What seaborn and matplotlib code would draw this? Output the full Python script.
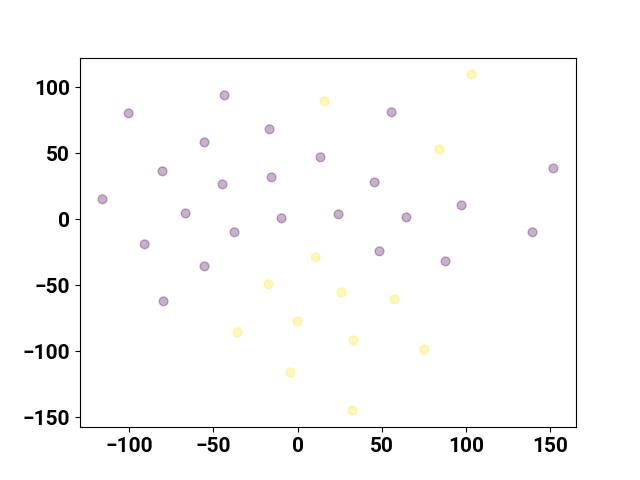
import pandas as pd
import matplotlib.pyplot as plt
import seaborn as sns

plt.rcParams['font.family'] = ['Roboto', 'DejaVu Sans']
plt.rcParams['font.weight'] = 'bold'

# class 0 points (purple)
x0 = [-100.2, -43.3, -115.7, -80.1, -55.2, -16.6, -44.5, -15.4, 13.6, -66.4, -90.7, -37.4,
      -55.2, -79.5, -9.5, 24.3, 55.8, 45.7, 64.6, 48.6, 97.3, 87.8, 151.8, 139.4]
y0 = [80.3, 93.9, 15.2, 36.4, 58.3, 68.2, 26.5, 31.8, 47.0, 4.5, -18.9, -9.8,
      -35.6, -62.1, 0.8, 3.8, 81.1, 28.0, 1.5, -24.2, 10.6, -31.8, 38.6, -9.8]
# class 1 points (yellow)
x1 = [103.2, 16.0, 84.2, 10.7, -17.2, 26.1, 57.5, -35.6, 0.0, 33.2, 75.3, -4.2, 32.6]
y1 = [109.8, 89.4, 53.0, -28.8, -49.2, -55.3, -60.6, -85.6, -77.3, -91.7, -98.5, -115.9, -144.7]

df = pd.DataFrame({
    'x': x0 + x1,
    'y': y0 + y1,
    'label': [0] * len(x0) + [1] * len(x1),
})

fig, ax = plt.subplots(figsize=(6.4, 4.8), dpi=100)
sns.scatterplot(data=df, x='x', y='y', hue='label', palette=['#440154', '#fde725'], alpha=0.3,
                s=40, edgecolor='face', linewidth=1, legend=False, ax=ax)
ax.set_xlabel('')
ax.set_ylabel('')
ax.tick_params(labelsize=15)
for lab in ax.get_xticklabels() + ax.get_yticklabels():
    lab.set_fontweight('bold')

plt.savefig('out.png')
